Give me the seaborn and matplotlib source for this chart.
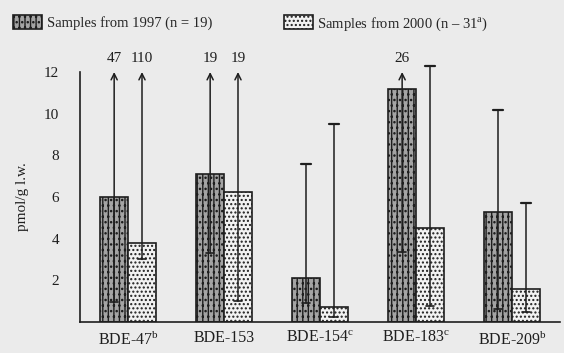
import pandas as pd
import seaborn as sns
import matplotlib.pyplot as plt
import matplotlib.patches as mpatches

# values (pmol/g l.w.)
congeners = ['BDE-47$^{\\mathrm{b}}$', 'BDE-153', 'BDE-154$^{\\mathrm{c}}$',
             'BDE-183$^{\\mathrm{c}}$', 'BDE-209$^{\\mathrm{b}}$']
years = ['1997', '2000']
median_1997 = [6.0, 7.1, 2.1, 11.2, 5.3]
median_2000 = [3.8, 6.25, 0.7, 4.5, 1.6]
low_1997 = [0.95, 3.3, 0.9, 3.35, 0.6]
high_1997 = [47, 19, 7.6, 26, 10.2]
low_2000 = [3.0, 1.0, 0.25, 0.75, 0.5]
high_2000 = [110, 19, 9.5, 12.3, 5.7]
legend_labels = ['Samples from 1997 (n = 19)',
                 'Samples from 2000 (n \u2013 31$^{\\mathrm{a}}$)']

df = pd.DataFrame({
    'congener': congeners * 2,
    'year': [years[0]] * 5 + [years[1]] * 5,
    'value': median_1997 + median_2000,
})

sns.set_style('white')
plt.rcParams['font.family'] = ['Liberation Serif', 'DejaVu Serif']
plt.rcParams['mathtext.fontset'] = 'custom'
plt.rcParams['mathtext.rm'] = 'Liberation Serif'
plt.rcParams['hatch.linewidth'] = 1.0
bg = '#ebebeb'
ink = '#1e1e1e'
fs = 10.5

fig = plt.figure(figsize=(5.64, 3.53), dpi=100, facecolor=bg)
ax = fig.add_axes([0.142, 0.088, 0.851, 0.708])
ax.set_facecolor(bg)

sns.barplot(data=df, x='congener', y='value', hue='year', width=0.58,
            legend=False, ax=ax, edgecolor=ink, linewidth=1.2)

styles = [dict(facecolor='#a4a4a4', hatch='|||...'),
          dict(facecolor='#f2f2f2', hatch='....')]
for cont, st in zip(ax.containers, styles):
    for p in cont.patches:
        p.set_facecolor(st['facecolor'])
        p.set_hatch(st['hatch'])
        p.set_edgecolor(ink)

ymax = 12
lows = [low_1997, low_2000]
highs = [high_1997, high_2000]
for cont, lo, hi in zip(ax.containers, lows, highs):
    for p, l, h in zip(cont.patches, lo, hi):
        x = p.get_x() + p.get_width() / 2
        ax.plot([x - 0.04, x + 0.04], [l, l], color=ink, lw=1.2, clip_on=False)
        if h > ymax + 0.5:
            ax.annotate('', xy=(x, ymax), xytext=(x, l),
                        arrowprops=dict(arrowstyle='->', color=ink, lw=1.1,
                                        mutation_scale=11, shrinkA=0, shrinkB=0),
                        annotation_clip=False)
            ax.annotate(f'{h:g}', xy=(x, ymax), xytext=(0, 5),
                        textcoords='offset points', ha='center', va='bottom',
                        fontsize=11, color=ink, annotation_clip=False)
        else:
            ax.plot([x, x], [l, h], color=ink, lw=1.1, clip_on=False)
            ax.plot([x - 0.05, x + 0.05], [h, h], color=ink, lw=1.6, clip_on=False)

ax.set_ylim(0, 12)
ax.set_xlim(-0.5, 4.5)
ax.set_yticks([2, 4, 6, 8, 10, 12])
ax.set_xticks([0, 1, 2, 3, 4])
ax.set_xticklabels(congeners, fontsize=11.5, color=ink)
ax.set_xticks([0.5, 1.5, 2.5, 3.5], minor=True)
ax.tick_params(axis='x', which='major', length=0, pad=6)
ax.tick_params(axis='x', which='minor', length=5, width=1, color=ink,
               direction='out')
ax.tick_params(axis='y', length=5, width=1, color=ink, direction='out',
               labelsize=11, labelcolor=ink, pad=10)
ax.set_xlabel('')
ax.set_ylabel('pmol/g l.w.', fontsize=11, color=ink, labelpad=11)
for s in ['top', 'right']:
    ax.spines[s].set_visible(False)
for s in ['left', 'bottom']:
    ax.spines[s].set_color(ink)
    ax.spines[s].set_linewidth(1.2)

handles = [mpatches.Patch(facecolor=st['facecolor'], hatch=st['hatch'],
                          edgecolor=ink, lw=1.2) for st in styles]
fig.legend(handles[:1], legend_labels[:1], loc='upper left',
           bbox_to_anchor=(0.0, 0.995), frameon=False, fontsize=fs,
           handlelength=2.0, handleheight=1.1, handletextpad=0.3)
fig.legend(handles[1:], legend_labels[1:], loc='upper left',
           bbox_to_anchor=(0.48, 0.995), frameon=False, fontsize=fs,
           handlelength=2.0, handleheight=1.1, handletextpad=0.3)

fig.savefig('out.png', dpi=100, facecolor=bg)
